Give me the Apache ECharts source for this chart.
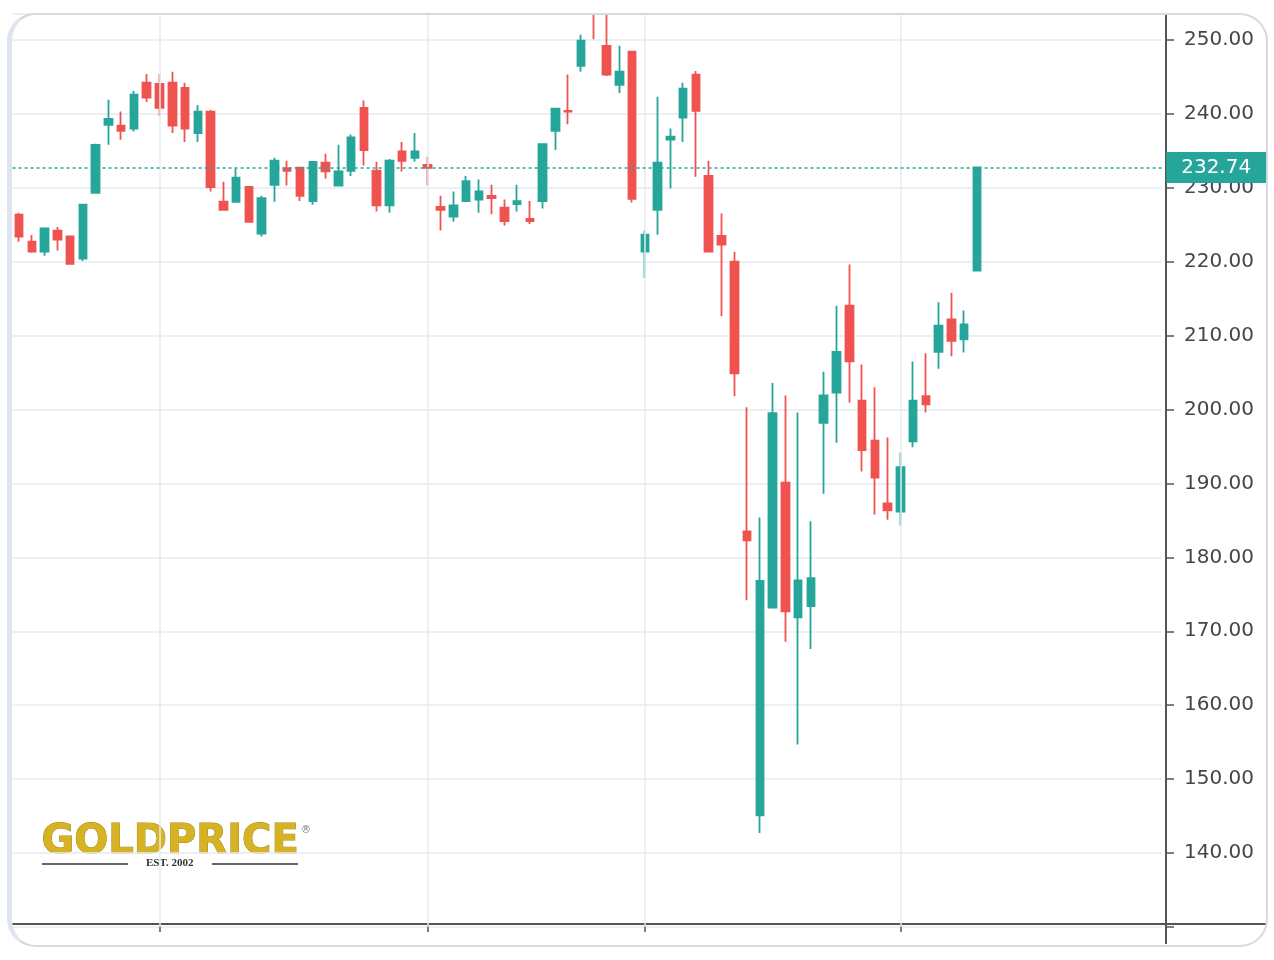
<!DOCTYPE html>
<html>
<head>
<meta charset="utf-8">
<title>GOLDPRICE candles</title>
<script src="https://cdn.jsdelivr.net/npm/echarts@6/dist/echarts.min.js"></script>
<style>
    html, body { margin: 0; padding: 0; background: #fff; }
    #main { position: absolute; left: 0; top: 0; width: 1274px; height: 960px; z-index: 1; }
    /* card frame sits over the chart so it also hides the part of the candle above the plot */
    .topmask { position: absolute; left: 0; top: 0; width: 1274px; height: 13px; background: #fff; z-index: 2; }
    .card {
        position: absolute; left: 7px; top: 13px; width: 1254px; height: 930px;
        border: 2px solid #d3dae2; border-left: 5px solid #dfe5ee; border-radius: 28px;
        background: transparent; z-index: 3; pointer-events: none;
    }
</style>
</head>
<body>
<div id="main"></div>
<div class="topmask"></div>
<div class="card"></div>
<script>
    // open, close, low, high  (one row per day)
    const opens = [226.35, 222.7, 221.35, 224.2, 223.4, 220.4, 229.3, 238.5, 238.4, 238.0,
        244.2, 244.05, 244.2, 243.5, 237.4, 240.3, 228.1, 228.1, 230.1, 223.8,
        230.4, 232.6, 232.7, 228.2, 233.4, 230.3, 232.3, 240.8, 232.3, 227.6,
        234.9, 234.05, 233.1, 227.4, 226.1, 228.2, 228.4, 228.9, 227.3, 227.8,
        225.8, 228.2, 237.7, 240.4, 246.5, 257.0, 249.2, 243.9, 248.4, 221.35,
        227.0, 236.5, 239.5, 245.3, 231.6, 223.5, 220.0, 183.5, 145.1, 173.2,
        190.1, 171.9, 173.4, 198.2, 202.3, 214.05, 201.2, 195.8, 187.3, 186.2,
        195.7, 201.8, 207.8, 212.2, 209.5, 218.8]
    const closes = [223.4, 221.35, 224.5, 223.0, 219.7, 227.7, 235.8, 239.3, 237.7, 242.6,
        242.2, 240.8, 238.4, 238.0, 240.3, 230.1, 227.0, 231.35, 225.4, 228.6,
        233.65, 232.3, 228.9, 233.5, 232.2, 232.2, 236.8, 235.1, 227.6, 233.65,
        233.65, 234.9, 232.7, 227.0, 227.6, 230.9, 229.5, 228.6, 225.5, 228.2,
        225.5, 235.9, 240.7, 240.3, 249.9, 254.5, 245.3, 245.7, 228.5, 223.65,
        233.4, 236.9, 243.4, 240.4, 221.35, 222.3, 204.9, 182.3, 176.8, 199.5,
        172.7, 176.9, 177.2, 201.9, 207.8, 206.5, 194.5, 190.8, 186.35, 192.2,
        201.2, 200.7, 211.35, 209.3, 211.5, 232.74]
    const lows = [222.7, 221.2, 220.8, 221.5, 219.7, 220.1, 229.2, 235.8, 236.5, 237.6,
        241.6, 239.7, 237.4, 236.2, 236.2, 229.5, 226.9, 228.0, 225.3, 223.4,
        228.1, 230.3, 228.2, 227.7, 231.2, 230.3, 231.6, 233.0, 226.8, 226.6,
        232.2, 233.5, 230.3, 224.2, 225.4, 228.1, 226.6, 226.4, 224.9, 226.8,
        225.1, 227.2, 235.1, 238.6, 245.7, 250.1, 245.1, 242.8, 228.0, 217.8,
        223.65, 229.9, 236.2, 231.5, 221.35, 212.6, 201.8, 174.2, 142.7, 173.2,
        168.6, 154.7, 167.6, 188.6, 195.5, 200.9, 191.6, 185.8, 185.1, 184.3,
        194.9, 199.6, 205.5, 207.2, 207.7, 218.7]
    const highs = [226.6, 223.6, 224.5, 224.7, 223.5, 227.8, 235.95, 241.9, 240.3, 243.1,
        245.4, 245.4, 245.7, 244.2, 241.2, 240.5, 230.8, 232.6, 230.1, 228.9,
        234.05, 233.65, 232.8, 233.5, 234.6, 235.8, 237.2, 241.8, 233.5, 233.9,
        236.2, 237.4, 234.2, 228.9, 229.5, 231.6, 231.1, 230.4, 228.4, 230.4,
        228.2, 235.9, 240.7, 245.3, 250.7, 258.0, 254.5, 249.2, 248.4, 224.2,
        242.3, 238.0, 244.2, 245.8, 233.65, 226.5, 221.35, 200.3, 185.4, 203.6,
        201.9, 199.6, 184.9, 205.1, 214.05, 219.6, 206.1, 203.0, 196.2, 194.2,
        206.5, 207.6, 214.5, 215.8, 213.4, 232.74]

    const lastPrice = 232.74
    const monthStarts = [11, 32, 49, 69]   // vertical grid lines / ticks
    const slotCount = 90                   // empty room on the right of the last candle
    const categories = Array.from({length: slotCount}, (v, i) => String(i + 1))

    const green = '#26a69a'
    const red = '#ef5350'
    const gridColor = '#e6ebf1'

    let candleData = opens.map((o, i) => [o, closes[i], lows[i], highs[i]])

    let myChart = echarts.init(document.getElementById('main'))
    myChart.setOption({
        animation: false,
        grid: {
            left: 12.6,
            right: 111.8,
            top: 14,
            bottom: 33
        },
        xAxis: {
            type: 'category',
            data: categories,
            boundaryGap: true,
            offset: -3,
            axisLine: {lineStyle: {color: '#555', width: 2}},
            axisTick: {
                show: true,
                alignWithLabel: true,
                length: 8,
                interval: (index) => monthStarts.includes(index),
                lineStyle: {color: '#555', width: 1.5}
            },
            axisLabel: {show: false},
            splitLine: {show: false}
        },
        yAxis: {
            type: 'value',
            position: 'right',
            offset: 3.8,
            min: 130,
            max: 253.5,
            interval: 10,
            axisLine: {show: true, lineStyle: {color: '#555', width: 2}},
            axisTick: {show: true, length: 8, lineStyle: {color: '#555', width: 1.5}},
            axisLabel: {
                showMaxLabel: false,
                margin: 18,
                color: '#464646',
                fontSize: 20,
                fontFamily: 'DejaVu Sans',
                formatter: v => (v % 10 === 0 && v >= 140) ? v.toFixed(2) : ''
            },
            splitLine: {show: true, lineStyle: {color: gridColor, width: 1.5}}
        },
        series: [
            {
                // vertical grid lines, under the candles
                type: 'line',
                data: [],
                z: 1,
                silent: true,
                markLine: {
                    silent: true,
                    symbol: 'none',
                    label: {show: false},
                    lineStyle: {type: 'solid', color: gridColor, width: 1.5},
                    data: monthStarts.map(i => ({xAxis: i}))
                }
            },
            {
                type: 'candlestick',
                data: candleData,
                z: 2,
                barWidth: 8,
                clip: true,
                itemStyle: {
                    color: green,
                    color0: red,
                    borderColor: green,
                    borderColor0: red,
                    borderWidth: 1.8
                }
            },
            {
                // last price line + tag
                type: 'line',
                data: [],
                z: 5,
                silent: true,
                markLine: {
                    silent: true,
                    symbol: 'none',
                    lineStyle: {type: [3, 3], color: green, width: 1.5},
                    label: {
                        show: true,
                        position: 'end',
                        distance: 4,
                        formatter: lastPrice.toFixed(2),
                        color: '#fff',
                        fontSize: 20,
                        fontFamily: 'DejaVu Sans',
                        backgroundColor: green,
                        padding: [4, 15, 3, 15],
                        lineHeight: 24
                    },
                    data: [{yAxis: lastPrice}]
                }
            }
        ],
        graphic: [
            // axis lines running past the plot corner
            {type: 'line', shape: {x1: 1160, y1: 924, x2: 1266, y2: 924}, style: {stroke: '#555', lineWidth: 2}, silent: true},
            {type: 'line', shape: {x1: 1166, y1: 920, x2: 1166, y2: 944}, style: {stroke: '#555', lineWidth: 2}, silent: true},
            // logo
            {
                type: 'text', left: 41, top: 822, silent: true,
                style: {
                    text: 'GOLDPRICE',
                    font: 'bold 40px "DejaVu Sans"',
                    fill: '#d6b324',
                    stroke: '#a88a12',
                    lineWidth: 1
                }
            },
            {type: 'text', left: 301, top: 825, silent: true, style: {text: '®', font: '10px "DejaVu Sans"', fill: '#777'}},
            {type: 'line', shape: {x1: 42, y1: 864, x2: 128, y2: 864}, style: {stroke: '#333', lineWidth: 1.5}, silent: true},
            {type: 'line', shape: {x1: 212, y1: 864, x2: 298, y2: 864}, style: {stroke: '#333', lineWidth: 1.5}, silent: true},
            {
                type: 'text', left: 146, top: 858, silent: true,
                style: {text: 'EST. 2002', font: 'bold 11px "Liberation Serif"', fill: '#333'}
            }
        ]
    })
</script>
</body>
</html>
